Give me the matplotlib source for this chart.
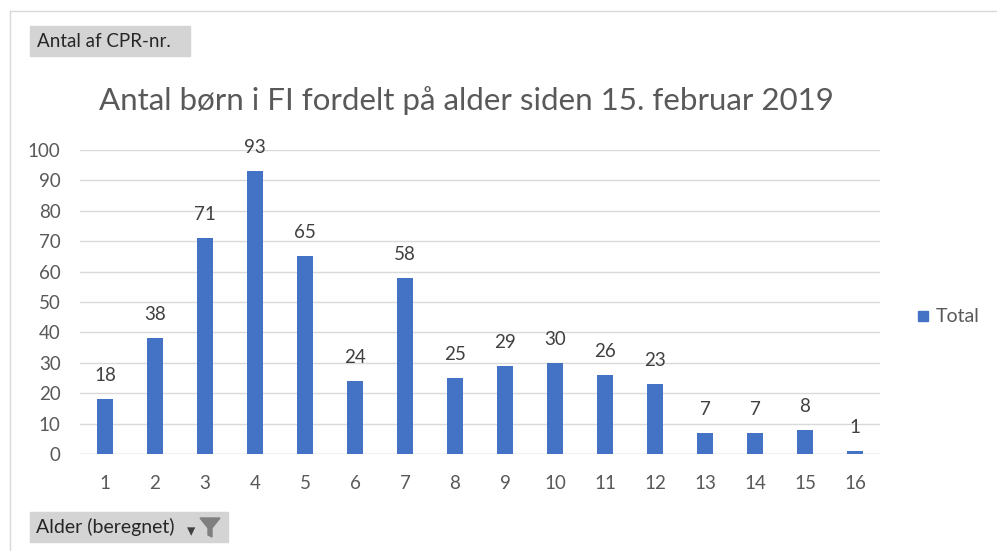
import matplotlib.pyplot as plt
from matplotlib.patches import Rectangle
from matplotlib.lines import Line2D

ages = [str(i) for i in range(1, 17)]
counts = [18, 38, 71, 93, 65, 24, 58, 25, 29, 30, 26, 23, 7, 7, 8, 1]
y_ticks = [0, 10, 20, 30, 40, 50, 60, 70, 80, 90, 100]

plt.rcParams['font.family'] = ['Lato', 'DejaVu Sans']
txt = '#595959'
blue = '#4472C4'

W, H = 997, 551
fig = plt.figure(figsize=(W / 100, H / 100), dpi=100)

ax = fig.add_axes([80 / W, 97 / H, 800 / W, 304 / H])
x = range(1, len(ages) + 1)
ax.bar(x, counts, width=0.32, color=blue, zorder=3, label='Total')
for xi, v in zip(x, counts):
    ax.annotate(str(v), (xi, v), xytext=(0, 17), textcoords='offset points',
                ha='center', va='center', fontsize=13.5, color='#404040')

ax.set_xlim(0.5, 16.5)
ax.set_ylim(0, 100)
ax.set_yticks(y_ticks)
ax.set_xticks(list(x))
ax.set_xticklabels(ages)
ax.yaxis.grid(True, color='#d9d9d9', lw=1, zorder=0)
ax.tick_params(length=0, labelsize=13.5, labelcolor=txt)
ax.tick_params(axis='x', pad=15)
ax.tick_params(axis='y', pad=14)
for s in ax.spines.values():
    s.set_visible(False)
ax.axhline(0, color='#d9d9d9', lw=1, zorder=2)

fig.text(466 / W, 1 - 101 / H, 'Antal børn i FI fordelt på alder siden 15. februar 2019',
         ha='center', va='center', fontsize=22.5, color=txt)

# legend
fig.patches.append(Rectangle((918 / W, 1 - 321 / H), 10 / W, 10 / H,
                             transform=fig.transFigure, color=blue))
fig.text(936 / W, 1 - 316 / H, 'Total', ha='left', va='center', fontsize=14, color=txt)

# frame lines
fig.add_artist(Line2D([10 / W, 1], [1 - 11 / H, 1 - 11 / H], color='#d9d9d9', lw=1))
fig.add_artist(Line2D([10 / W, 10 / W], [0, 1 - 11 / H], color='#d9d9d9', lw=1))

# pivot field buttons
fig.patches.append(Rectangle((30 / W, 1 - 56 / H), 160 / W, 30 / H,
                             transform=fig.transFigure, color='#d4d4d4'))
fig.text(37 / W, 1 - 41 / H, 'Antal af CPR-nr.', ha='left', va='center',
         fontsize=13.5, color='#262626')
fig.patches.append(Rectangle((30 / W, 1 - 542 / H), 198 / W, 30 / H,
                             transform=fig.transFigure, color='#d4d4d4'))
fig.text(36 / W, 1 - 527 / H, 'Alder (beregnet)', ha='left', va='center',
         fontsize=14, color='#262626')
fig.text(187 / W, 1 - 531 / H, '▾', ha='left', va='center', fontsize=12, color='#404040',
         family=['DejaVu Sans'])
fig.patches.append(plt.Polygon([[200 / W, 1 - 518 / H], [220 / W, 1 - 518 / H],
                                [212 / W, 1 - 528 / H], [212 / W, 1 - 537 / H],
                                [208 / W, 1 - 535 / H], [208 / W, 1 - 528 / H]],
                               closed=True, transform=fig.transFigure, color='#7f7f7f'))

fig.savefig('out.png', dpi=100)
